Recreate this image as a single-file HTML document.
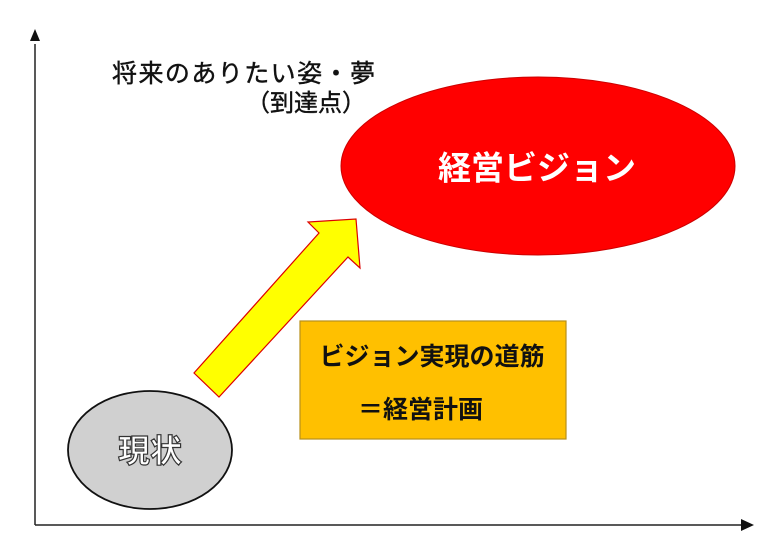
<!DOCTYPE html>
<html><head><meta charset="utf-8"><style>
body{margin:0;background:#fff;}
svg{display:block;}
text{font-family:"Liberation Sans","Noto Sans CJK JP",sans-serif;}
</style></head><body>
<svg width="780" height="557" viewBox="0 0 780 557">
<line x1="35" y1="44" x2="35" y2="525" stroke="#222" stroke-width="1.5"/>
<polygon points="35,29 30,41 40,41" fill="#111"/>
<line x1="35" y1="525" x2="742" y2="525" stroke="#222" stroke-width="1.5"/>
<polygon points="754,525 741,519 741,531" fill="#111"/>
<ellipse cx="538" cy="166" rx="197" ry="89" fill="#ff0000" stroke="#c00" stroke-width="1"/>
<text x="537" y="171" font-size="33" font-weight="bold" fill="#fff" text-anchor="middle" dominant-baseline="middle">経営ビジョン</text>
<text x="112" y="82" font-size="25" fill="#111" stroke="#111" stroke-width="0.4" textLength="263">将来のありたい姿・夢</text>
<text x="246" y="111" font-size="24" fill="#111" stroke="#111" stroke-width="0.4">（到達点）</text>
<polygon points="194,373 219,397 348,257 360,268 356,219 308,222 319,233" fill="#ffff00" stroke="#d00" stroke-width="1.2"/>
<rect x="300" y="321" width="266" height="118" fill="#ffc000" stroke="#b8901a" stroke-width="1.2"/>
<text x="432" y="365" font-size="25" font-weight="bold" fill="#111" text-anchor="middle">ビジョン実現の道筋</text>
<text x="358" y="418" font-size="25" font-weight="bold" fill="#111">＝経営計画</text>
<ellipse cx="150" cy="450" rx="82" ry="59" fill="#d0d0d0" stroke="#111" stroke-width="1.8"/>
<text x="150" y="462" font-size="32" font-weight="bold" fill="#fff" stroke="#333" stroke-width="1.2" text-anchor="middle">現状</text>
</svg>
</body></html>
